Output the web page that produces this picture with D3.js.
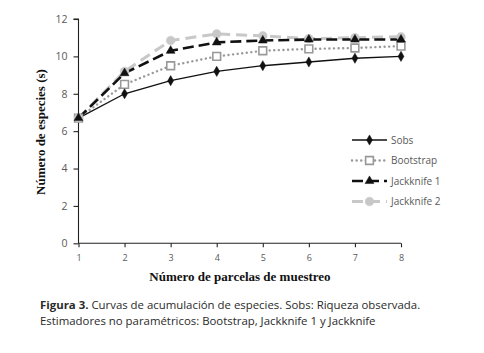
<!DOCTYPE html>
<html>
<head>
<meta charset="utf-8">
<script src="https://cdn.jsdelivr.net/npm/d3@7"></script>
<style>
  body { margin: 0; background: #fff; }
  svg { display: block; }
</style>
</head>
<body>
<svg width="484" height="353"></svg>
<script>
let parcelas = [1, 2, 3, 4, 5, 6, 7, 8]
let sobs = [6.7, 8.0, 8.7, 9.2, 9.5, 9.7, 9.9, 10.0]
let bootstrap = [6.7, 8.5, 9.5, 10.0, 10.3, 10.4, 10.45, 10.55]
let jack1 = [6.7, 9.1, 10.3, 10.75, 10.85, 10.9, 10.9, 10.9]
let jack2 = [6.7, 9.2, 10.85, 11.2, 11.1, 10.95, 11.0, 11.05]
let yTicks = [0, 2, 4, 6, 8, 10, 12]
let seriesNames = ['Sobs', 'Bootstrap', 'Jackknife 1', 'Jackknife 2']

let styles = {
  'Sobs': { values: sobs, stroke: '#111', width: 1.3, dash: null, cap: 'butt', symbol: d3.symbolDiamond, size: 30, fill: '#111', mstroke: '#111' },
  'Bootstrap': { values: bootstrap, stroke: '#999', width: 2.4, dash: '0.1,4.5', cap: 'round', symbol: d3.symbolSquare, size: 60, fill: '#fff', mstroke: '#999' },
  'Jackknife 1': { values: jack1, stroke: '#111', width: 2.6, dash: '11,5', cap: 'butt', symbol: d3.symbolTriangle, size: 34, fill: '#111', mstroke: '#111' },
  'Jackknife 2': { values: jack2, stroke: '#c8c8c8', width: 3, dash: '11,6', cap: 'butt', symbol: d3.symbolCircle, size: 60, fill: '#c8c8c8', mstroke: '#c8c8c8' }
}

let margin = { top: 19, left: 78.5, right: 83, bottom: 110 }
let width = 484
let height = 353

let xScale = d3.scaleLinear()
  .domain([1, 8])
  .range([margin.left, width - margin.right])
let yScale = d3.scaleLinear()
  .domain([0, 12])
  .range([height - margin.bottom + 0.3, margin.top])

let svg = d3.select('svg')

// ejes
let yAxis = d3.axisLeft(yScale).tickValues(yTicks).tickSize(5).tickPadding(6)
let xAxis = d3.axisBottom(xScale).tickValues(parcelas).tickFormat(d3.format('d')).tickSize(4).tickPadding(7)

let gy = svg.append('g')
  .attr('transform', 'translate(' + [margin.left, 0] + ')')
  .call(yAxis)
let gx = svg.append('g')
  .attr('transform', 'translate(' + [0, yScale(0)] + ')')
  .call(xAxis)

gy.selectAll('text').attr('font-size', 10.5)
gx.selectAll('text').attr('font-size', 9)
svg.selectAll('.tick text')
  .attr('font-family', 'Open Sans, sans-serif')
  .attr('fill', '#595959')
svg.selectAll('.domain, .tick line').attr('stroke', '#222').attr('stroke-width', 1.1)
gy.select('.domain').attr('d', 'M-5,' + yScale(12) + 'H0V' + yScale(0))
gx.select('.domain').attr('d', 'M' + xScale(1) + ',0H' + xScale(8))

// series
let line = d3.line()
  .x((d, i) => xScale(parcelas[i]))
  .y(d => yScale(d))

let drawOrder = ['Bootstrap', 'Sobs', 'Jackknife 2', 'Jackknife 1']
drawOrder.forEach(name => {
  let s = styles[name]
  svg.append('path')
    .attr('d', line(s.values))
    .attr('fill', 'none')
    .attr('stroke', s.stroke)
    .attr('stroke-width', s.width)
    .attr('stroke-dasharray', s.dash)
    .attr('stroke-linecap', s.cap)
})
drawOrder.forEach(name => {
  let s = styles[name]
  svg.selectAll(null)
    .data(s.values)
    .enter()
    .append('path')
    .attr('d', d3.symbol().type(s.symbol).size(s.size))
    .attr('transform', (d, i) => 'translate(' + [xScale(parcelas[i]), yScale(d)] + ')')
    .attr('fill', s.fill)
    .attr('stroke', s.mstroke)
    .attr('stroke-width', name == 'Bootstrap' ? 1.6 : 0.5)
})

// leyenda
let legend = svg.append('g').attr('transform', 'translate(352,140)')
seriesNames.forEach((name, i) => {
  let s = styles[name]
  let g = legend.append('g').attr('transform', 'translate(' + [0, i * 20.5] + ')')
  g.append('line')
    .attr('x1', 0).attr('x2', 35)
    .attr('stroke', s.stroke)
    .attr('stroke-width', s.width)
    .attr('stroke-dasharray', s.dash)
    .attr('stroke-linecap', s.cap)
  g.append('path')
    .attr('d', d3.symbol().type(s.symbol).size(s.size))
    .attr('transform', 'translate(17.5,0)')
    .attr('fill', s.fill)
    .attr('stroke', s.mstroke)
    .attr('stroke-width', name == 'Bootstrap' ? 1.6 : 0.5)
  g.append('text')
    .attr('x', 39).attr('y', 3.5)
    .attr('font-family', 'Open Sans, sans-serif')
    .attr('font-size', 10)
    .attr('fill', '#595959')
    .text(name)
})

// titulos
svg.append('text')
  .attr('x', 240).attr('y', 281)
  .attr('text-anchor', 'middle')
  .attr('font-family', 'Liberation Serif, serif')
  .attr('font-weight', 'bold')
  .attr('font-size', 13)
  .attr('fill', '#111')
  .text('Número de parcelas de muestreo')

svg.append('text')
  .attr('transform', 'translate(45,132) rotate(-90)')
  .attr('text-anchor', 'middle')
  .attr('font-family', 'Liberation Serif, serif')
  .attr('font-weight', 'bold')
  .attr('font-size', 13)
  .attr('fill', '#111')
  .text('Número de especies (s)')

let caption = svg.append('text')
  .attr('font-family', 'Open Sans, sans-serif')
  .attr('font-size', 11.4)
  .attr('fill', '#2a2a2a')
caption.append('tspan').attr('x', 40).attr('y', 309)
  .attr('font-weight', 'bold').text('Figura 3.')
caption.append('tspan')
  .text(' Curvas de acumulación de especies. Sobs: Riqueza observada.')
caption.append('tspan').attr('x', 40).attr('y', 325)
  .text('Estimadores no paramétricos: Bootstrap, Jackknife 1 y Jackknife')
</script>
</body>
</html>
